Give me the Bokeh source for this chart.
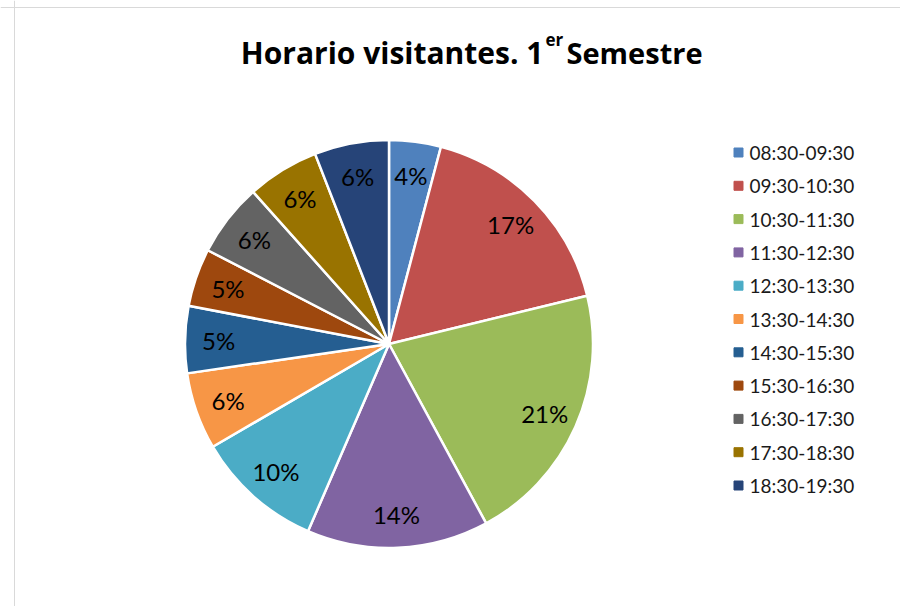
import math
from bokeh.plotting import figure
from bokeh.models import ColumnDataSource, Span, Range1d
from bokeh.core.properties import value
from bokeh.embed import file_html
from bokeh.resources import INLINE

# ---- data ----
categories = ["08:30-09:30", "09:30-10:30", "10:30-11:30", "11:30-12:30",
              "12:30-13:30", "13:30-14:30", "14:30-15:30", "15:30-16:30",
              "16:30-17:30", "17:30-18:30", "18:30-19:30"]
shares = [4.1, 17.1, 20.9, 14.4, 10.1, 6.1, 5.3, 4.6, 5.8, 5.7, 5.9]
colors = ["#4F81BD", "#C0504D", "#9BBB59", "#8064A2", "#4BACC6", "#F79646",
          "#255E91", "#9E480E", "#636363", "#997300", "#264478"]
title_main = "Horario visitantes. 1"
title_sup = "er"
title_end = "Semestre"

W, H = 900, 606
FONT = "Lato"
TFONT = "Open Sans"

p = figure(width=W, height=H, output_backend="svg", toolbar_location=None,
           x_range=Range1d(0, W), y_range=Range1d(0, H), min_border=0)
p.axis.visible = False
p.grid.visible = False
p.outline_line_color = None
p.background_fill_color = "white"
p.border_fill_color = "white"

def Y(page_y):
    return H - page_y

# chart-area border
p.add_layout(Span(location=14, dimension="height", line_color="#d9d9d9", line_width=1))
p.add_layout(Span(location=Y(7), dimension="width", line_color="#d9d9d9", line_width=1))

# ---- pie ----
cx, cy, R = 388.5, Y(343.5), 204
total = sum(shares)
starts, ends, lx, ly, labels = [], [], [], [], []
cum = 0.0
for v in shares:
    a0 = math.pi / 2 - 2 * math.pi * (cum + v) / total
    a1 = math.pi / 2 - 2 * math.pi * cum / total
    starts.append(a0)
    ends.append(a1)
    mid = (a0 + a1) / 2
    lx.append(cx + 0.835 * R * math.cos(mid))
    ly.append(cy + 0.835 * R * math.sin(mid))
    labels.append(f"{round(v / total * 100)}%")
    cum += v

src = ColumnDataSource(dict(start=starts, end=ends, color=colors,
                            lx=lx, ly=ly, label=labels, cat=categories))
p.wedge(x=cx, y=cy, radius=R, start_angle="start", end_angle="end",
        fill_color="color", line_color="white", line_width=2.5, source=src)
p.text(x="lx", y="ly", text="label", source=src, text_align="center",
       text_baseline="middle", text_font=value(FONT), text_font_size="24px",
       text_color="#000000")

# ---- title ----
p.text(x=[543], y=[Y(52)], text=[title_main], text_align="right",
       text_baseline="alphabetic", text_font=value(TFONT), text_font_style="bold",
       text_font_size="30px", text_color="#000000")
p.text(x=[545], y=[Y(39)], text=[title_sup], text_align="left",
       text_baseline="alphabetic", text_font=value(TFONT), text_font_style="bold",
       text_font_size="17px", text_color="#000000")
p.text(x=[566], y=[Y(52)], text=[title_end], text_align="left",
       text_baseline="alphabetic", text_font=value(TFONT), text_font_style="bold",
       text_font_size="29px", text_color="#000000")

# ---- legend ----
leg_y = [Y(152) - 33.3 * i for i in range(len(categories))]
leg = ColumnDataSource(dict(y=leg_y, cat=categories, color=colors))
p.scatter(x=738, y="y", marker="square", size=9, fill_color="color",
          line_color="color", source=leg)
p.text(x=749, y="y", text="cat", source=leg, text_align="left",
       text_baseline="middle", text_font=value(FONT), text_font_size="19px",
       text_color="#1a1a1a")

open("out.html", "w").write(file_html(p, INLINE))
